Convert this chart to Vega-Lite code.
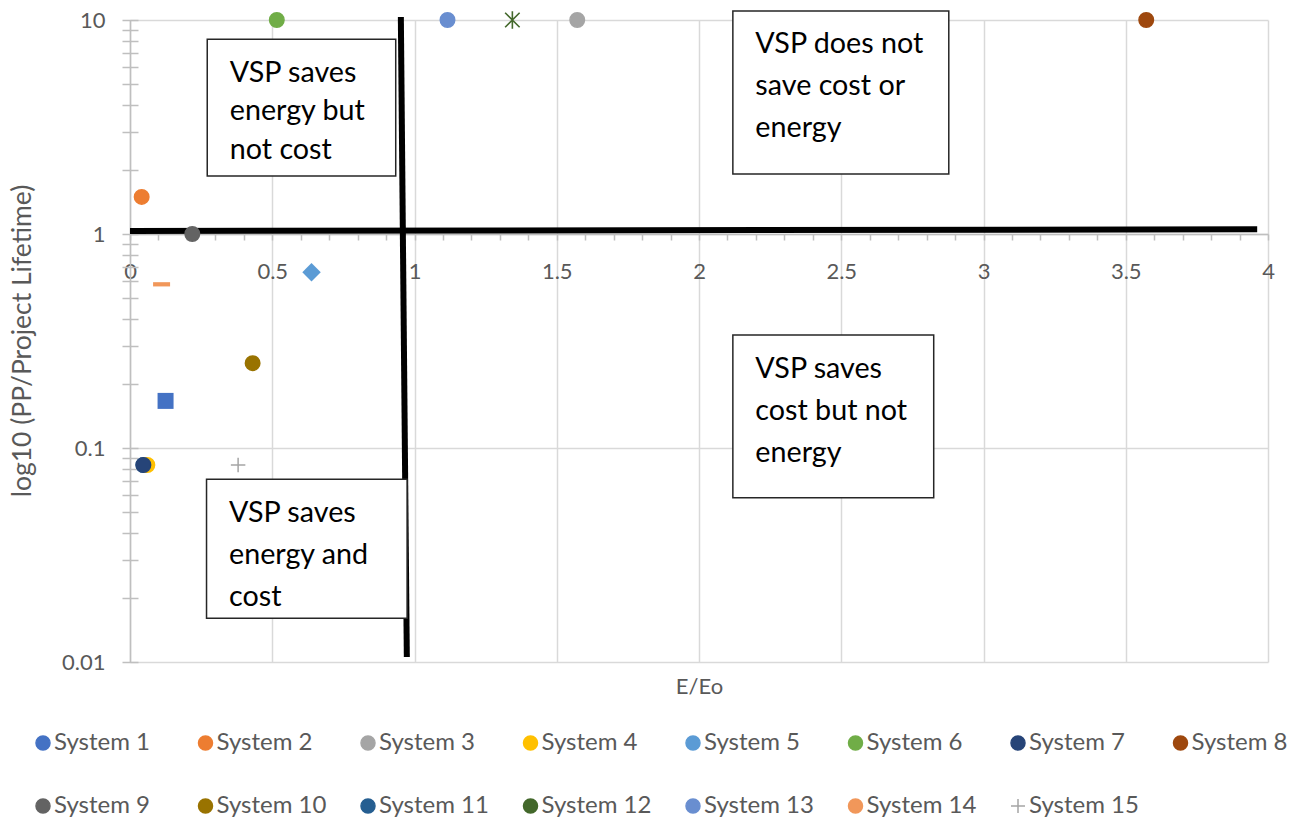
{
  "$schema": "https://vega.github.io/schema/vega-lite/v6.json",
  "width": 1138,
  "height": 642,
  "autosize": "none",
  "padding": {"left": 130, "top": 20, "right": 28, "bottom": 160},
  "background": "white",
  "config": {"font": "Lato", "view": {"stroke": null}},
  "datasets": {
    "systems": [
      {"system": "System 1", "e_eo": 0.125, "pp_ratio": 0.166},
      {"system": "System 2", "e_eo": 0.041, "pp_ratio": 1.49},
      {"system": "System 3", "e_eo": 1.572, "pp_ratio": 10},
      {"system": "System 5", "e_eo": 0.638, "pp_ratio": 0.662},
      {"system": "System 6", "e_eo": 0.516, "pp_ratio": 10},
      {"system": "System 8", "e_eo": 3.572, "pp_ratio": 10},
      {"system": "System 9", "e_eo": 0.219, "pp_ratio": 1.0},
      {"system": "System 10", "e_eo": 0.431, "pp_ratio": 0.249},
      {"system": "System 12", "e_eo": 1.344, "pp_ratio": 10},
      {"system": "System 13", "e_eo": 1.116, "pp_ratio": 10},
      {"system": "System 14", "e_eo": 0.111, "pp_ratio": 0.582},
      {"system": "System 15", "e_eo": 0.38, "pp_ratio": 0.0833},
      {"system": "System 11", "e_eo": 0.047, "pp_ratio": 0.0833},
      {"system": "System 4", "e_eo": 0.061, "pp_ratio": 0.0833},
      {"system": "System 7", "e_eo": 0.047, "pp_ratio": 0.0833}
    ],
    "quadrant_lines": [
      {"seg": "vertical", "x": 0.952, "y": 10.33},
      {"seg": "vertical", "x": 0.973, "y": 0.01055},
      {"seg": "horizontal", "x": 0, "y": 1.033},
      {"seg": "horizontal", "x": 3.962, "y": 1.052}
    ],
    "boxes": [
      {"x1": 0.2715, "x2": 0.934, "y1": 8.13, "y2": 1.866, "label": "VSP saves\nenergy but\nnot cost"},
      {"x1": 2.119, "x2": 2.878, "y1": 11.02, "y2": 1.907, "label": "VSP does not\nsave cost or\nenergy"},
      {"x1": 2.119, "x2": 2.825, "y1": 0.337, "y2": 0.0586, "label": "VSP saves\ncost but not\nenergy"},
      {"x1": 0.269, "x2": 0.974, "y1": 0.0714, "y2": 0.016, "label": "VSP saves\nenergy and\ncost"}
    ]
  },
  "layer": [
    {
      "data": {"name": "quadrant_lines"},
      "mark": {"type": "line", "color": "black", "strokeWidth": 6, "strokeCap": "butt"},
      "encoding": {
        "x": {
          "field": "x", "type": "quantitative",
          "scale": {"domain": [0, 4], "nice": false, "zero": false},
          "axis": {
            "orient": "bottom", "offset": -428,
            "values": [0, 0.5, 1, 1.5, 2, 2.5, 3, 3.5, 4], "format": "~g",
            "grid": true, "gridColor": "#d9d9d9", "gridWidth": 1.5,
            "domain": true, "domainColor": "#bfbfbf", "domainWidth": 1.5,
            "ticks": false, "labelFlush": false, "labelOverlap": false,
            "labelFontSize": 22, "labelColor": "#595959", "labelPadding": 37, "labelBaseline": "middle",
            "title": "E/Eo", "titleFontSize": 22, "titleFontWeight": "normal", "titleColor": "#595959",
            "titleY": 452, "titleBaseline": "middle"
          }
        },
        "y": {
          "field": "y", "type": "quantitative",
          "scale": {"type": "log", "domain": [0.01, 10], "nice": false},
          "axis": {
            "orient": "left",
            "values": [0.01, 0.1, 1, 10], "format": "~g",
            "grid": true, "gridColor": "#d9d9d9", "gridWidth": 1.5,
            "domain": true, "domainColor": "#bfbfbf", "domainWidth": 1.5,
            "ticks": false, "labelFlush": false, "labelOverlap": false,
            "labelFontSize": 22, "labelColor": "#595959", "labelPadding": 25, "labelBaseline": "middle",
            "title": "log10 (PP/Project Lifetime)", "titleFontSize": 26.5, "titleFontWeight": "normal", "titleColor": "#595959",
            "titleX": -108, "titleY": 320.5, "titleAngle": -90, "titleAlign": "center", "titleBaseline": "middle"
          }
        },
        "detail": {"field": "seg"}
      }
    },
    {
      "data": {"name": "systems"},
      "transform": [{"filter": {"field": "system", "oneOf": ["System 2", "System 3", "System 4", "System 6", "System 7", "System 8", "System 9", "System 10", "System 11", "System 13", "System 15"]}}],
      "mark": {"type": "point", "filled": true, "opacity": 1, "size": 210, "strokeWidth": 1.5},
      "encoding": {
        "x": {
          "field": "e_eo", "type": "quantitative",
          "axis": {
            "orient": "bottom", "offset": -428,
            "values": [0, 0.1, 0.2, 0.3, 0.4, 0.5, 0.6, 0.7, 0.8, 0.9, 1, 1.1, 1.2, 1.3, 1.4, 1.5, 1.6, 1.7, 1.8, 1.9, 2, 2.1, 2.2, 2.3, 2.4, 2.5, 2.6, 2.7, 2.8, 2.9, 3, 3.1, 3.2, 3.3, 3.4, 3.5, 3.6, 3.7, 3.8, 3.9, 4],
            "labels": false, "domain": false, "grid": false,
            "ticks": true, "tickSize": 6, "tickColor": "#bfbfbf", "tickWidth": 1.5, "title": null
          }
        },
        "y": {
          "field": "pp_ratio", "type": "quantitative",
          "axis": {
            "orient": "left", "offset": -8,
            "values": [0.01, 0.02, 0.03, 0.04, 0.05, 0.06, 0.07, 0.08, 0.09, 0.1, 0.2, 0.3, 0.4, 0.5, 0.6, 0.7, 0.8, 0.9, 1, 2, 3, 4, 5, 6, 7, 8, 9, 10],
            "labels": false, "domain": false, "grid": false,
            "ticks": true, "tickSize": 16, "tickColor": "#bfbfbf", "tickWidth": 1.5, "title": null
          }
        },
        "color": {
          "field": "system", "type": "nominal",
          "scale": {
            "domain": ["System 1", "System 2", "System 3", "System 4", "System 5", "System 6", "System 7", "System 8", "System 9", "System 10", "System 11", "System 12", "System 13", "System 14", "System 15"],
            "range": ["#4472C4", "#ED7D31", "#A5A5A5", "#FFC000", "#5B9BD5", "#70AD47", "#264478", "#9E480E", "#636363", "#997300", "#255E91", "#43682B", "#698ED0", "#F1975A", "#A5A5A5"]
          },
          "legend": {
            "title": null, "orient": "none", "legendX": -99, "legendY": 711,
            "direction": "horizontal", "columns": 8, "gridAlign": "all",
            "columnPadding": 29.5, "rowPadding": 39, "padding": 0,
            "symbolSize": 196, "symbolStrokeWidth": 1.5, "symbolOpacity": 1,
            "labelFontSize": 24, "labelColor": "#595959", "labelOffset": -1
          }
        },
        "stroke": {
          "field": "system", "type": "nominal",
          "scale": {
            "domain": ["System 1", "System 2", "System 3", "System 4", "System 5", "System 6", "System 7", "System 8", "System 9", "System 10", "System 11", "System 12", "System 13", "System 14", "System 15"],
            "range": ["#4472C4", "#ED7D31", "#A5A5A5", "#FFC000", "#5B9BD5", "#70AD47", "#264478", "#9E480E", "#636363", "#997300", "#255E91", "#43682B", "#698ED0", "#F1975A", "#A5A5A5"]
          },
          "legend": {"title": null}
        },
        "shape": {
          "field": "system", "type": "nominal",
          "scale": {
            "domain": ["System 1", "System 2", "System 3", "System 4", "System 5", "System 6", "System 7", "System 8", "System 9", "System 10", "System 11", "System 12", "System 13", "System 14", "System 15"],
            "range": ["circle", "circle", "circle", "circle", "circle", "circle", "circle", "circle", "circle", "circle", "circle", "circle", "circle", "circle", "M-1,0H1M0,-1V1"]
          },
          "legend": {"title": null}
        }
      }
    },
    {
      "data": {"name": "systems"},
      "transform": [{"filter": {"field": "system", "equal": "System 1"}}],
      "mark": {"type": "point", "shape": "square", "filled": true, "opacity": 1, "size": 256},
      "encoding": {
        "x": {"field": "e_eo", "type": "quantitative", "axis": null},
        "y": {"field": "pp_ratio", "type": "quantitative", "axis": null},
        "color": {"field": "system", "type": "nominal", "legend": null}
      }
    },
    {
      "data": {"name": "systems"},
      "transform": [{"filter": {"field": "system", "equal": "System 5"}}],
      "mark": {"type": "point", "shape": "diamond", "filled": true, "opacity": 1, "size": 340},
      "encoding": {
        "x": {"field": "e_eo", "type": "quantitative", "axis": null},
        "y": {"field": "pp_ratio", "type": "quantitative", "axis": null},
        "color": {"field": "system", "type": "nominal", "legend": null}
      }
    },
    {
      "data": {"name": "systems"},
      "transform": [{"filter": {"field": "system", "equal": "System 14"}}],
      "mark": {"type": "point", "shape": "M-1,-0.25H1V0.25H-1Z", "filled": true, "opacity": 1, "size": 289},
      "encoding": {
        "x": {"field": "e_eo", "type": "quantitative", "axis": null},
        "y": {"field": "pp_ratio", "type": "quantitative", "axis": null},
        "color": {"field": "system", "type": "nominal", "legend": null}
      }
    },
    {
      "data": {"name": "systems"},
      "transform": [{"filter": {"field": "system", "equal": "System 12"}}],
      "mark": {"type": "point", "shape": "M-1,-1L1,1M-1,1L1,-1M0,-1.2V1.2", "filled": false, "opacity": 1, "size": 210, "strokeWidth": 1.6},
      "encoding": {
        "x": {"field": "e_eo", "type": "quantitative", "axis": null},
        "y": {"field": "pp_ratio", "type": "quantitative", "axis": null},
        "color": {"field": "system", "type": "nominal", "legend": null}
      }
    },
    {
      "data": {"name": "boxes"},
      "mark": {"type": "rect", "fill": "white", "stroke": "#262626", "strokeWidth": 1.5},
      "encoding": {
        "x": {"field": "x1", "type": "quantitative", "axis": null},
        "x2": {"field": "x2"},
        "y": {"field": "y1", "type": "quantitative", "axis": null},
        "y2": {"field": "y2"}
      }
    },
    {
      "data": {"name": "boxes"},
      "transform": [{"filter": "!(datum.x1 < 1 && datum.y1 > 1)"}],
      "mark": {"type": "text", "align": "left", "baseline": "top", "dx": 22.5, "dy": 19.5, "fontSize": 28.7, "lineHeight": 42, "lineBreak": "\n", "color": "black", "font": "Lato"},
      "encoding": {
        "x": {"field": "x1", "type": "quantitative", "axis": null},
        "y": {"field": "y1", "type": "quantitative", "axis": null},
        "text": {"field": "label"}
      }
    },
    {
      "data": {"name": "boxes"},
      "transform": [{"filter": "datum.x1 < 1 && datum.y1 > 1"}],
      "mark": {"type": "text", "align": "left", "baseline": "top", "dx": 22.5, "dy": 19.5, "fontSize": 28.7, "lineHeight": 38.5, "lineBreak": "\n", "color": "black", "font": "Lato"},
      "encoding": {
        "x": {"field": "x1", "type": "quantitative", "axis": null},
        "y": {"field": "y1", "type": "quantitative", "axis": null},
        "text": {"field": "label"}
      }
    }
  ],
  "resolve": {"axis": {"x": "independent", "y": "independent"}}
}
